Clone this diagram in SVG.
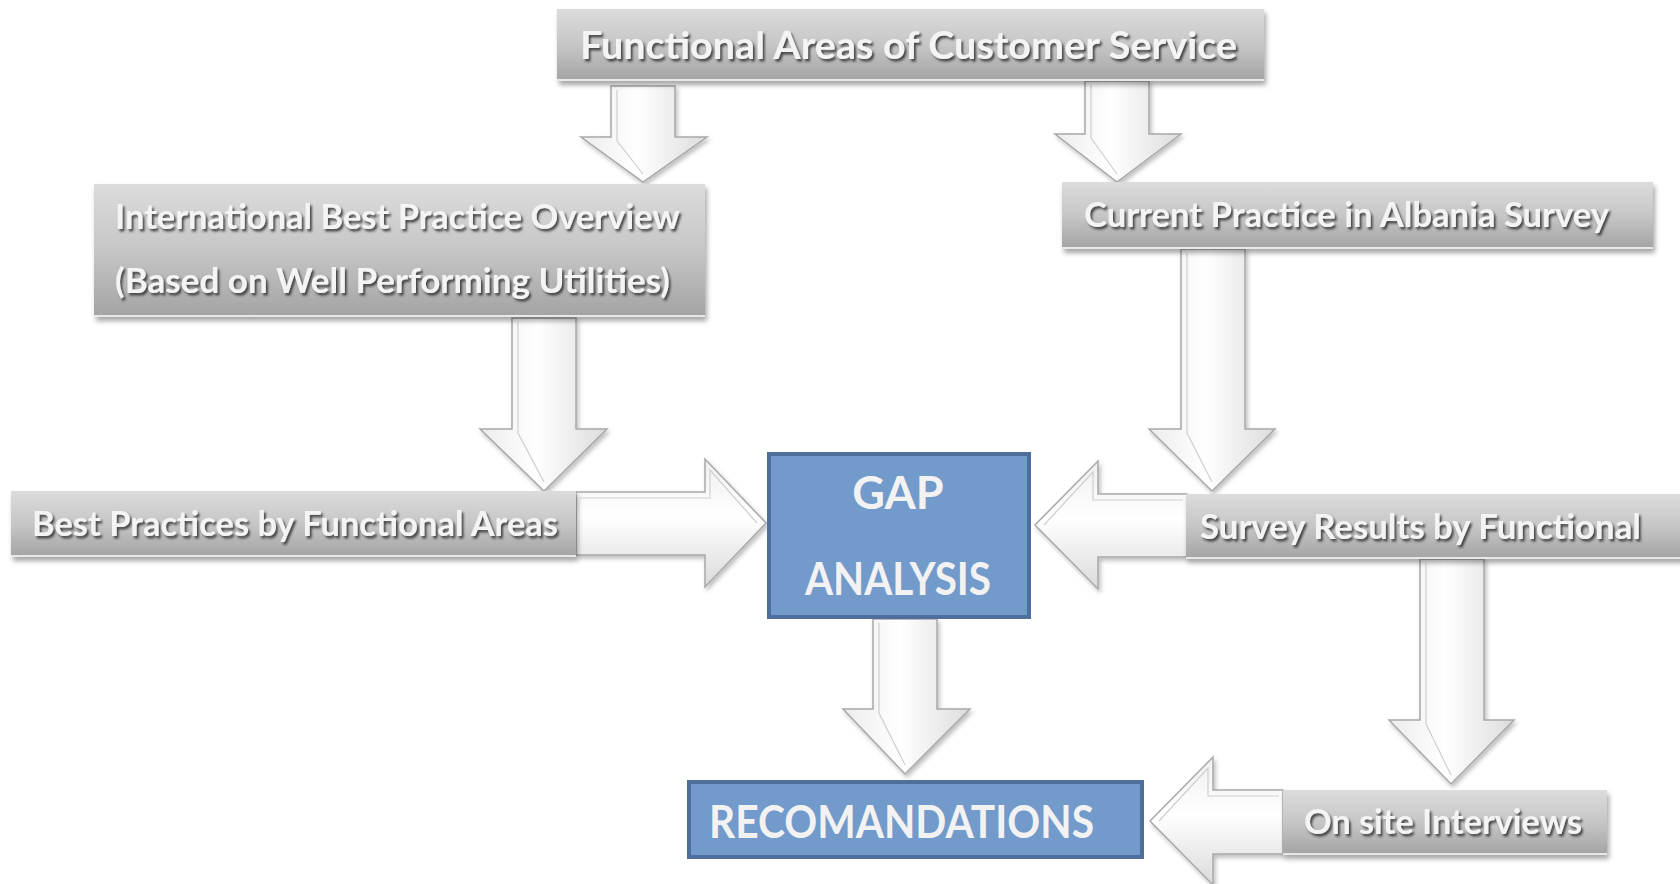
<svg xmlns="http://www.w3.org/2000/svg" width="1680" height="884" viewBox="0 0 1680 884">
  <defs>
    <linearGradient id="grayBox" x1="0" y1="0" x2="0" y2="1">
      <stop offset="0" stop-color="#dcdcdc"/>
      <stop offset="0.5" stop-color="#c6c6c6"/>
      <stop offset="1" stop-color="#a3a3a3"/>
    </linearGradient>
    <linearGradient id="arrowV" x1="0" y1="0" x2="1" y2="0">
      <stop offset="0" stop-color="#ececec"/>
      <stop offset="0.45" stop-color="#ffffff"/>
      <stop offset="1" stop-color="#dcdcdc"/>
    </linearGradient>
    <linearGradient id="arrowH" x1="0" y1="0" x2="0" y2="1">
      <stop offset="0" stop-color="#efefef"/>
      <stop offset="0.45" stop-color="#ffffff"/>
      <stop offset="1" stop-color="#dadada"/>
    </linearGradient>
    <filter id="boxShadow" x="-5%" y="-20%" width="110%" height="150%">
      <feDropShadow dx="2" dy="4" stdDeviation="2.5" flood-color="#000" flood-opacity="0.35"/>
    </filter>
    <filter id="arrowShadow" x="-20%" y="-20%" width="140%" height="140%">
      <feDropShadow dx="2" dy="3" stdDeviation="2" flood-color="#000" flood-opacity="0.25"/>
    </filter>
    <filter id="textShadow" x="-5%" y="-30%" width="110%" height="160%">
      <feDropShadow dx="2" dy="2.5" stdDeviation="1.3" flood-color="#333" flood-opacity="0.85"/>
    </filter>
  </defs>
  <style>
    .gbox { fill: url(#grayBox); filter: url(#boxShadow); }
    .gedge { stroke: #e8e8e8; stroke-width: 2; }
    .bbox { fill: #729aca; stroke: #4e6f9b; stroke-width: 4; }
    .label { font-family: Lato, "Open Sans", "Liberation Sans", sans-serif; font-weight: bold; fill: #f4f4f4; filter: url(#textShadow); }
    .blabel { font-family: Lato, "Open Sans", "Liberation Sans", sans-serif; font-weight: bold; fill: #f2f2f2; }
    .av { fill: url(#arrowV); stroke: #a8a8a8; stroke-width: 1.5; filter: url(#arrowShadow); stroke-linejoin: miter; }
    .ah { fill: url(#arrowH); stroke: #a8a8a8; stroke-width: 1.5; filter: url(#arrowShadow); stroke-linejoin: miter; }
    .bevel { fill: none; stroke: #cfcfcf; stroke-width: 1.2; }
  </style>

  <!-- block arrows between the stages -->
  <g id="connectors">
    <!-- Functional Areas -> International Best Practice -->
    <polygon class="av" points="611,86 675,86 675,137 707,137 643,182 581,137 611,137"/>
    <polyline class="bevel" points="617,90 617,141 643,174"/>
    <!-- Functional Areas -> Current Practice -->
    <polygon class="av" points="1085,81 1149,81 1149,134 1181,134 1117,182 1055,134 1085,134"/>
    <polyline class="bevel" points="1091,85 1091,138 1117,174"/>
    <!-- International Best Practice -> Best Practices by Functional Areas -->
    <polygon class="av" points="512,318 576,318 576,429 607,429 544,491 480,429 512,429"/>
    <polyline class="bevel" points="518,322 518,433 544,482"/>
    <!-- Current Practice -> Survey Results -->
    <polygon class="av" points="1181,249 1245,249 1245,429 1275,429 1212,491 1149,429 1181,429"/>
    <polyline class="bevel" points="1187,253 1187,433 1212,482"/>
    <!-- GAP Analysis -> Recomandations -->
    <polygon class="av" points="873,619 937,619 937,709 970,709 905,774 843,709 873,709"/>
    <polyline class="bevel" points="879,623 879,713 905,765"/>
    <!-- Survey Results -> On site Interviews -->
    <polygon class="av" points="1420,559 1484,559 1484,720 1514,720 1451,784 1389,720 1420,720"/>
    <polyline class="bevel" points="1426,563 1426,724 1451,775"/>
    <!-- Best Practices -> GAP Analysis -->
    <polygon class="ah" points="576,492 705,492 705,459 766,523 705,587 705,555 576,555"/>
    <polyline class="bevel" points="580,498 710,498 710,470 757,523"/>
    <!-- Survey Results -> GAP Analysis -->
    <polygon class="ah" points="1187,494 1098,494 1098,461 1035,525 1098,589 1098,557 1187,557"/>
    <polyline class="bevel" points="1183,500 1093,500 1093,472 1044,525"/>
    <!-- On site Interviews -> Recomandations -->
    <polygon class="ah" points="1283,790 1213,790 1213,757 1150,821 1213,885 1213,854 1283,854"/>
    <polyline class="bevel" points="1279,796 1208,796 1208,768 1159,821"/>
  </g>

  <g id="node-functional-areas">
    <rect class="gbox" x="557" y="9" width="707" height="72"/>
    <line class="gedge" x1="557" y1="80" x2="1264" y2="80"/>
    <text class="label" x="580" y="59" font-size="38" textLength="657" lengthAdjust="spacingAndGlyphs">Functional Areas of Customer Service</text>
  </g>

  <g id="node-international">
    <rect class="gbox" x="94" y="184" width="611" height="133"/>
    <line class="gedge" x1="94" y1="316" x2="705" y2="316"/>
    <text class="label" x="115" y="229" font-size="34" textLength="565" lengthAdjust="spacingAndGlyphs">International Best Practice Overview</text>
    <text class="label" x="115" y="293" font-size="34" textLength="555" lengthAdjust="spacingAndGlyphs">(Based on Well Performing Utilities)</text>
  </g>

  <g id="node-current-practice">
    <rect class="gbox" x="1062" y="182" width="591" height="67"/>
    <line class="gedge" x1="1062" y1="248" x2="1653" y2="248"/>
    <text class="label" x="1084" y="227" font-size="34" textLength="525" lengthAdjust="spacingAndGlyphs">Current Practice in Albania Survey</text>
  </g>

  <g id="node-best-practices">
    <rect class="gbox" x="11" y="491" width="565" height="66"/>
    <line class="gedge" x1="11" y1="556" x2="576" y2="556"/>
    <text class="label" x="32" y="536" font-size="34" textLength="526" lengthAdjust="spacingAndGlyphs">Best Practices by Functional Areas</text>
  </g>

  <g id="node-survey-results">
    <rect class="gbox" x="1186" y="494" width="500" height="65"/>
    <line class="gedge" x1="1186" y1="558" x2="1686" y2="558"/>
    <text class="label" x="1200" y="539" font-size="34" textLength="441" lengthAdjust="spacingAndGlyphs">Survey Results by Functional</text>
  </g>

  <g id="node-on-site">
    <rect class="gbox" x="1283" y="790" width="324" height="65"/>
    <line class="gedge" x1="1283" y1="854" x2="1607" y2="854"/>
    <text class="label" x="1304" y="834" font-size="34" textLength="278" lengthAdjust="spacingAndGlyphs">On site Interviews</text>
  </g>

  <g id="node-gap-analysis">
    <rect class="bbox" x="769" y="454" width="260" height="163"/>
    <text class="blabel" x="898" y="509" font-size="45" text-anchor="middle">GAP</text>
    <text class="blabel" x="898" y="595" font-size="45" text-anchor="middle" textLength="186" lengthAdjust="spacingAndGlyphs">ANALYSIS</text>
  </g>

  <g id="node-recomandations">
    <rect class="bbox" x="689" y="782" width="453" height="75"/>
    <text class="blabel" x="709" y="838" font-size="46" textLength="385" lengthAdjust="spacingAndGlyphs">RECOMANDATIONS</text>
  </g>
</svg>
